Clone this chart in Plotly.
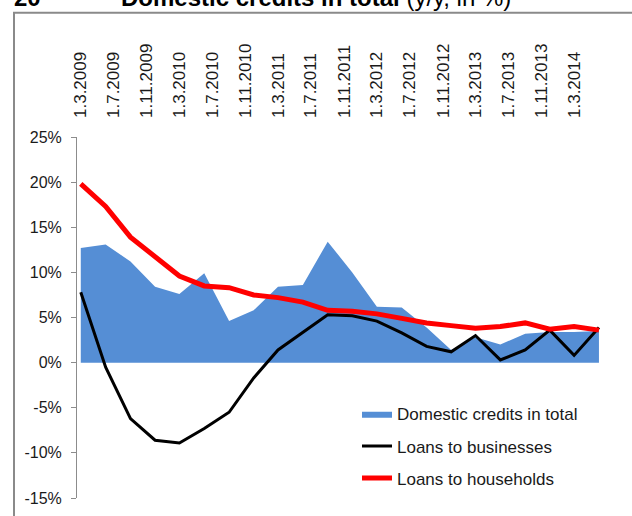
import plotly.graph_objects as go

dates = ["2009-03-01", "2009-06-01", "2009-09-01", "2009-12-01",
         "2010-03-01", "2010-06-01", "2010-09-01", "2010-12-01",
         "2011-03-01", "2011-06-01", "2011-09-01", "2011-12-01",
         "2012-03-01", "2012-06-01", "2012-09-01", "2012-12-01",
         "2013-03-01", "2013-06-01", "2013-09-01", "2013-12-01",
         "2014-03-01", "2014-06-01"]
domestic_total = [12.7, 13.1, 11.2, 8.4, 7.6, 9.9, 4.6, 5.8, 8.4, 8.6, 13.4, 10.0,
                  6.2, 6.1, 3.9, 1.4, 2.8, 2.0, 3.2, 3.4, 3.4, 3.5]
loans_business = [7.8, -0.5, -6.2, -8.6, -8.9, -7.3, -5.5, -1.7, 1.4, 3.4, 5.3, 5.2,
                  4.6, 3.3, 1.8, 1.2, 3.0, 0.3, 1.4, 3.6, 0.8, 3.9]
loans_households = [19.8, 17.3, 13.9, 11.7, 9.6, 8.5, 8.3, 7.5, 7.2, 6.7, 5.8, 5.7,
                    5.4, 4.9, 4.4, 4.1, 3.8, 4.0, 4.4, 3.7, 4.0, 3.6]
series_names = ["Domestic credits in total", "Loans to businesses", "Loans to households"]
y_tick_values = [-15, -10, -5, 0, 5, 10, 15, 20, 25]
y_tick_labels = ["-15%", "-10%", "-5%", "0%", "5%", "10%", "15%", "20%", "25%"]

# ---- layout geometry (page pixels; body margin removed after render) ----
W, H = 632, 516
PL, PR, PT, PB = 77, 603, 137, 497.6          # plot area in page pixels
ML, MT = PL, PT
MR, MB = W - PR, H - PB
PW, PH = PR - PL, PB - PT


def px_x(px):
    return (px - PL) / PW


def px_y(py):
    return (PB - py) / PH


FONT = "Liberation Sans, Arial, sans-serif"
AXIS_GRAY = "#8c8c8c"

fig = go.Figure()
fig.add_trace(go.Scatter(
    x=dates, y=domestic_total, name=series_names[0], mode="lines",
    fill="tozeroy", fillcolor="rgb(85,142,213)", line=dict(width=0, color="rgb(85,142,213)"),
    legendgroup="a", xaxis="x2", yaxis="y"))
fig.add_trace(go.Scatter(
    x=dates, y=loans_business, name=series_names[1], mode="lines",
    line=dict(width=3, color="black"), legendgroup="b", xaxis="x2", yaxis="y"))
fig.add_trace(go.Scatter(
    x=dates, y=loans_households, name=series_names[2], mode="lines",
    line=dict(width=5, color="#ff0000"), legendgroup="c", xaxis="x2", yaxis="y"))

x_range = ["2009-02-15", "2014-06-16"]

fig.update_layout(
    width=W, height=H,
    margin=dict(l=ML, r=MR, t=MT, b=MB, autoexpand=False),
    paper_bgcolor="white", plot_bgcolor="white",
    font=dict(family=FONT, color="#1a1a1a"),
    xaxis=dict(
        type="date", range=x_range, anchor="free", position=15 / 40,
        showline=True, linecolor=AXIS_GRAY, linewidth=1,
        ticks="outside", ticklen=5, tickcolor=AXIS_GRAY,
        tick0="2009-02-15", dtick="M4",
        showticklabels=False, showgrid=False, zeroline=False),
    xaxis2=dict(
        type="date", range=x_range, overlaying="x", side="top", anchor="y",
        matches="x",
        tick0="2009-03-01", dtick="M4", tickformat="%-d.%-m.%Y",
        tickangle=-90, ticks="", ticklabelstandoff=18,
        tickfont=dict(size=17, color="#1a1a1a"),
        showline=False, showgrid=False, zeroline=False),
    yaxis=dict(
        range=[-15, 25], tickvals=y_tick_values, ticktext=y_tick_labels,
        showline=True, linecolor=AXIS_GRAY, linewidth=1,
        ticks="outside", ticklen=5, tickcolor=AXIS_GRAY,
        ticklabelstandoff=6,
        tickfont=dict(size=16, color="#1a1a1a"),
        showgrid=False, zeroline=False),
    legend=dict(
        x=px_x(357), y=px_y(396), xanchor="left", yanchor="top",
        traceorder="grouped", tracegroupgap=7,
        bgcolor="rgba(0,0,0,0)", font=dict(size=17, color="#1a1a1a"),
        itemwidth=30),
    showlegend=True,
)

# outer chart frame (only left and top edges visible in the crop)
fig.add_shape(type="rect", xref="paper", yref="paper",
              x0=px_x(14), x1=px_x(700), y0=px_y(600), y1=px_y(13),
              line=dict(color="#8a8a8a", width=2), fillcolor="rgba(0,0,0,0)")

# chart heading, cut off at the top edge as in the reference
fig.add_annotation(xref="paper", yref="paper", x=px_x(12), y=px_y(13),
                   xanchor="left", yanchor="bottom", showarrow=False,
                   text="<b>20</b>", font=dict(size=24, family=FONT, color="black"))
fig.add_annotation(xref="paper", yref="paper", x=px_x(119), y=px_y(13),
                   xanchor="left", yanchor="bottom", showarrow=False,
                   text="<b>Domestic credits in total</b> (y/y, in %)",
                   font=dict(size=24, family=FONT, color="black"))

fig.write_html(
    "out.html",
    config={"displayModeBar": False},
    post_script="document.body.style.margin='0';document.body.style.overflow='hidden';",
)
